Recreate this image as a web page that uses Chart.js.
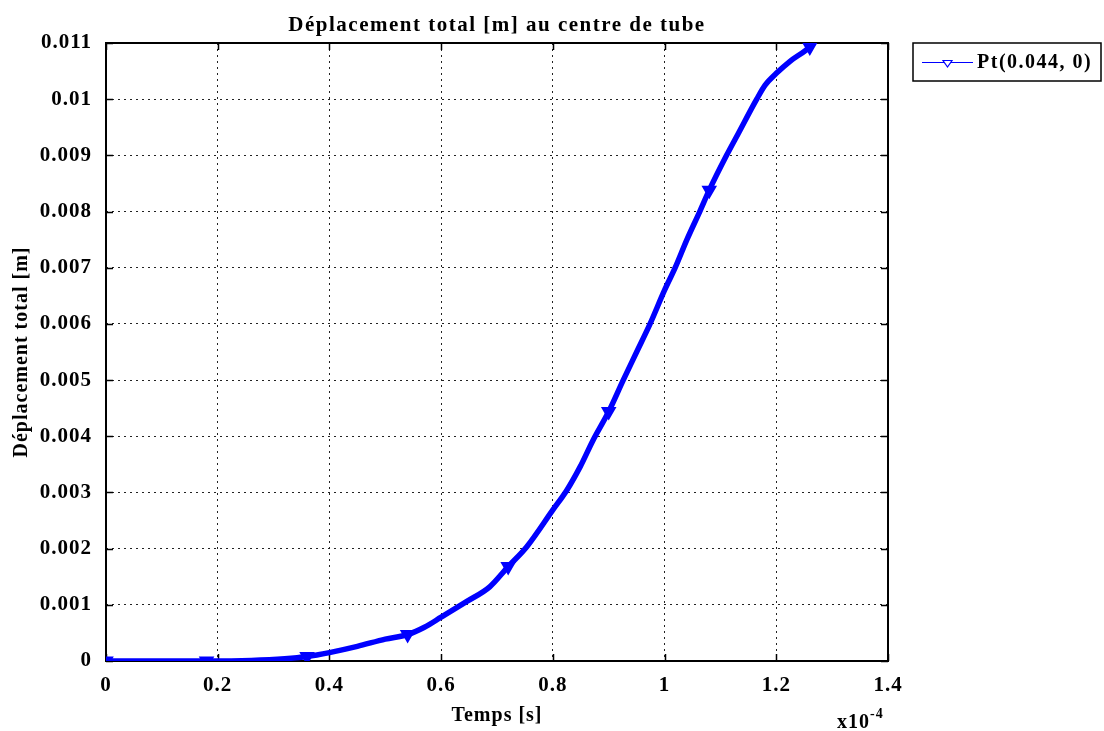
<!DOCTYPE html>
<html>
<head>
<meta charset="utf-8">
<script src="https://cdn.jsdelivr.net/npm/chart.js@4.4.0/dist/chart.umd.min.js"></script>
<style>
  html, body { margin: 0; padding: 0; background: #fff; }
  #wrap { width: 1104px; height: 731px; position: relative; }
</style>
</head>
<body>
<div id="wrap"><canvas id="c" width="1104" height="731"></canvas></div>
<script>
// Time axis values are in units of 1e-4 s (multiplier shown under the axis)
const times = [0, 0.09, 0.18, 0.26, 0.32, 0.36, 0.40, 0.45, 0.50, 0.54, 0.57, 0.60,
  0.646, 0.687, 0.72, 0.753, 0.80, 0.825, 0.849, 0.872, 0.90, 0.926, 0.95, 0.974,
  1.0, 1.019, 1.04, 1.063, 1.08, 1.111, 1.132, 1.165, 1.18, 1.2, 1.224, 1.26, 1.275];
const displacement = [0, 0, 0, 0.00001, 0.00004, 0.00008, 0.00015, 0.00026, 0.00039, 0.00047, 0.00060, 0.00078,
  0.00106, 0.00132, 0.00168, 0.00203, 0.00269, 0.00304, 0.00346, 0.00393, 0.00444, 0.0050, 0.0055, 0.0060,
  0.0066, 0.0070, 0.0075, 0.0080, 0.00838, 0.0090, 0.00939, 0.0100, 0.01025, 0.01046, 0.01067, 0.01093, 0.0111];
const markerTimes = [0, 0.18, 0.36, 0.54, 0.72, 0.9, 1.08, 1.26];

const xTickLabels = ['0', '0.2', '0.4', '0.6', '0.8', '1', '1.2', '1.4'];
const yTickLabels = ['0', '0.001', '0.002', '0.003', '0.004', '0.005', '0.006',
  '0.007', '0.008', '0.009', '0.01', '0.011'];

const chartTitle = 'Déplacement total [m] au centre de tube';
const xTitle = 'Temps [s]';
const yTitle = 'Déplacement total [m]';
const xMultiplier = 'x10';
const xExponent = '-4';
const seriesName = 'Pt(0.044, 0)';

const SERIF = "'Liberation Serif', 'Times New Roman', serif";
const BLUE = '#0000ff';

// Frame around the plot area with inward tick marks on all four sides
const framePlugin = {
  id: 'frame',
  beforeDraw(chart) {
    chart.ctx.letterSpacing = '1px';
  },
  beforeDatasetsDraw(chart) {
    const { ctx, chartArea: a, scales } = chart;
    ctx.save();
    ctx.strokeStyle = '#000';
    ctx.lineWidth = 2;
    ctx.setLineDash([]);
    ctx.strokeRect(a.left, a.top, a.right - a.left, a.bottom - a.top);
    const tl = 7;
    ctx.beginPath();
    scales.x.ticks.forEach(t => {
      const px = Math.round(scales.x.getPixelForValue(t.value)) + 0.5;
      ctx.moveTo(px, a.bottom); ctx.lineTo(px, a.bottom - tl);
      ctx.moveTo(px, a.top); ctx.lineTo(px, a.top + tl);
    });
    scales.y.ticks.forEach(t => {
      const py = Math.round(scales.y.getPixelForValue(t.value)) + 0.5;
      ctx.moveTo(a.left, py); ctx.lineTo(a.left + tl, py);
      ctx.moveTo(a.right, py); ctx.lineTo(a.right - tl, py);
    });
    ctx.lineWidth = 1.5;
    ctx.stroke();
    ctx.restore();
  },
  afterDraw(chart) {
    const { ctx, chartArea: a } = chart;
    const cx = (a.left + a.right) / 2;
    const cy = (a.top + a.bottom) / 2;
    ctx.save();
    ctx.fillStyle = '#000';

    // Title
    ctx.letterSpacing = '1.5px';
    ctx.font = `bold 21px ${SERIF}`;
    ctx.textAlign = 'center';
    ctx.textBaseline = 'alphabetic';
    ctx.fillText(chartTitle, cx, 31);

    // X axis title
    ctx.letterSpacing = '1px';
    ctx.font = `bold 20px ${SERIF}`;
    ctx.fillText(xTitle, cx, 721);

    // Multiplier of the time axis
    ctx.textAlign = 'left';
    ctx.font = `bold 20px ${SERIF}`;
    ctx.fillText(xMultiplier, 837, 728);
    const mw = ctx.measureText(xMultiplier).width;
    ctx.font = `bold 14px ${SERIF}`;
    ctx.fillText(xExponent, 837 + mw, 718);

    // Y axis title
    ctx.save();
    ctx.translate(22, cy);
    ctx.rotate(-Math.PI / 2);
    ctx.font = `bold 20px ${SERIF}`;
    ctx.textAlign = 'center';
    ctx.textBaseline = 'middle';
    ctx.fillText(yTitle, 0, 0);
    ctx.restore();

    // Legend box
    ctx.letterSpacing = '0px';
    ctx.fillStyle = '#fff';
    ctx.fillRect(913, 43, 188, 38);
    ctx.strokeStyle = '#000';
    ctx.lineWidth = 1.5;
    ctx.strokeRect(913, 43, 188, 38);
    ctx.strokeStyle = BLUE;
    ctx.lineWidth = 1.2;
    ctx.beginPath();
    ctx.moveTo(922, 62.5); ctx.lineTo(973, 62.5);
    ctx.stroke();
    ctx.beginPath();
    ctx.moveTo(943, 60.5); ctx.lineTo(952, 60.5); ctx.lineTo(947.5, 67); ctx.closePath();
    ctx.fillStyle = '#fff';
    ctx.fill();
    ctx.stroke();
    ctx.fillStyle = '#000';
    ctx.letterSpacing = '1.5px';
    ctx.font = `bold 20px ${SERIF}`;
    ctx.textAlign = 'left';
    ctx.textBaseline = 'middle';
    ctx.fillText(seriesName, 977, 63);
    ctx.restore();
  }
};

const tickFont = { family: SERIF, size: 21, weight: 'bold' };
const gridOpts = { color: '#222', lineWidth: 1, drawTicks: false };
const borderOpts = { display: false, dash: [2, 4] };

new Chart(document.getElementById('c'), {
  type: 'line',
  data: {
    datasets: [{
      label: seriesName,
      data: times.map((t, i) => ({ x: t, y: displacement[i] })),
      borderColor: BLUE,
      backgroundColor: BLUE,
      borderWidth: 5.5,
      cubicInterpolationMode: 'monotone',
      pointStyle: 'triangle',
      rotation: 180,
      pointRadius: ctx => markerTimes.includes(times[ctx.dataIndex]) ? 7 : 0,
      pointBackgroundColor: BLUE,
      pointBorderColor: BLUE,
      pointBorderWidth: 2,
      clip: 0
    }]
  },
  options: {
    responsive: false,
    animation: false,
    devicePixelRatio: 1,
    layout: { padding: { left: 0, right: 216, top: 43, bottom: 0 } },
    plugins: {
      legend: { display: false },
      title: { display: false },
      tooltip: { enabled: false }
    },
    scales: {
      x: {
        type: 'linear',
        min: 0, max: 1.4,
        ticks: {
          stepSize: 0.2,
          autoSkip: false,
          maxRotation: 0,
          padding: 12,
          color: '#000',
          font: tickFont,
          callback: (v, i) => xTickLabels[i]
        },
        grid: gridOpts,
        border: borderOpts,
        afterFit: s => { s.height = 70; }
      },
      y: {
        min: 0, max: 0.011,
        ticks: {
          stepSize: 0.001,
          autoSkip: false,
          padding: 14,
          color: '#000',
          font: tickFont,
          callback: (v, i) => yTickLabels[i]
        },
        grid: gridOpts,
        border: borderOpts,
        afterFit: s => { s.width = 106; }
      }
    }
  },
  plugins: [framePlugin]
});
</script>
</body>
</html>
